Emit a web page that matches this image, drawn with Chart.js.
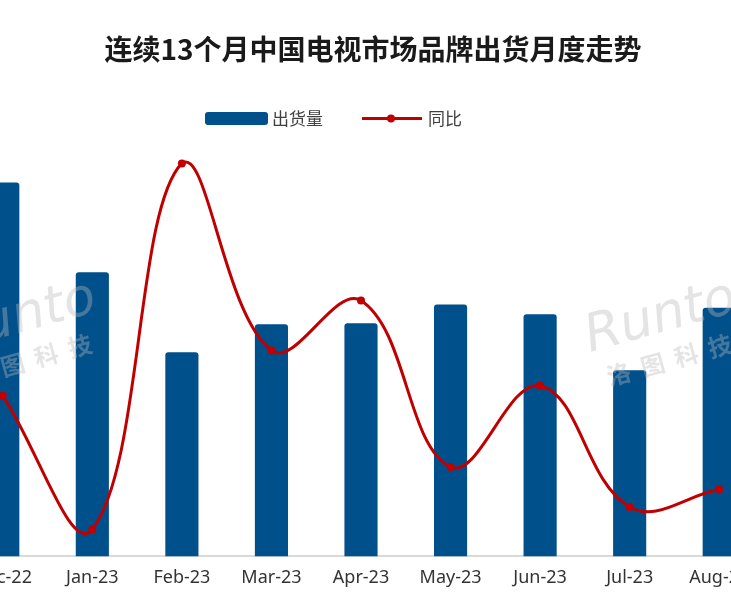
<!DOCTYPE html>
<html>
<head>
<meta charset="utf-8">
<script src="https://cdn.jsdelivr.net/npm/chart.js@4.4.0/dist/chart.umd.min.js"></script>
<title>连续13个月中国电视市场品牌出货月度走势</title>
<style>
  html, body { margin: 0; padding: 0; background: #fff; overflow: hidden; }
  #wrap { position: absolute; left: -46px; top: 0; width: 836px; height: 597px; }
</style>
</head>
<body>
<div id="wrap"><canvas id="myChart"></canvas></div>
<script>
// data (shipments in 万台, YoY in %)
var months = ['Dec-22', 'Jan-23', 'Feb-23', 'Mar-23', 'Apr-23', 'May-23', 'Jun-23', 'Jul-23', 'Aug-23'];
var shipments = [454, 345, 248, 282, 283, 306, 294, 226, 302];
var yoy = [-2.7, -25.4, 36.8, 5.0, 13.5, -14.8, -1.0, -21.6, -18.6];

var barColor = '#00508C';
var lineColor = '#C00000';

// legend drawn by hand so it sits where the original one does
var legendPlugin = {
  id: 'handLegend',
  afterDraw: function(chart) {
    var ctx = chart.ctx;
    ctx.save();
    // bar swatch
    ctx.fillStyle = barColor;
    ctx.beginPath();
    ctx.roundRect(251, 112, 63, 13, 3);
    ctx.fill();
    // line swatch
    ctx.strokeStyle = lineColor;
    ctx.lineWidth = 3;
    ctx.beginPath();
    ctx.moveTo(408, 118.5);
    ctx.lineTo(468, 118.5);
    ctx.stroke();
    ctx.fillStyle = lineColor;
    ctx.beginPath();
    ctx.arc(437, 118.5, 4, 0, Math.PI * 2);
    ctx.fill();
    ctx.fillStyle = '#404040';
    ctx.font = '17px "Noto Sans CJK SC"';
    ctx.textBaseline = 'middle';
    ctx.fillText(chart.data.datasets[0].label, 318, 119);
    ctx.fillText(chart.data.datasets[1].label, 474, 119);
    ctx.restore();
  }
};

// faint "Runto" watermark
var watermarkPlugin = {
  id: 'watermark',
  afterDatasetsDraw: function(chart) {
    var ctx = chart.ctx;
    [[-4, 352], [636, 352]].forEach(function(p) {
      ctx.save();
      ctx.translate(p[0], p[1]);
      ctx.rotate(-0.27);
      ctx.fillStyle = 'rgba(185,185,185,0.38)';
      ctx.font = 'italic 52px "DejaVu Sans"';
      ctx.fillText('Runto', 0, 0);
      ctx.font = 'bold 24px "Noto Sans CJK SC"';
      ctx.fillText('洛  图  科  技', 10, 38);
      ctx.restore();
    });
  }
};

var ctx = document.getElementById('myChart').getContext('2d');
var myChart = new Chart(ctx, {
  data: {
    labels: months,
    datasets: [
      { type: 'bar',
        label: '出货量',
        data: shipments,
        yAxisID: 'y',
        backgroundColor: barColor,
        borderRadius: { topLeft: 3, topRight: 3 },
        borderSkipped: 'bottom',
        barPercentage: 0.37,
        categoryPercentage: 1,
        order: 2 },
      { type: 'line',
        label: '同比',
        data: yoy,
        yAxisID: 'y1',
        borderColor: lineColor,
        backgroundColor: lineColor,
        borderWidth: 3,
        pointRadius: 4,
        pointBackgroundColor: lineColor,
        pointBorderWidth: 0,
        tension: 0.4,
        clip: false,
        order: 1 }
    ]
  },
  options: {
    responsive: true,
    maintainAspectRatio: false,
    animation: false,
    layout: { padding: { left: 0, right: 26, top: 0, bottom: -3 } },
    scales: {
      x: {
        grid: { display: false, drawTicks: false },
        border: { display: true, color: '#d9d9d9', width: 2 },
        ticks: { color: '#333', padding: 11, maxRotation: 0, font: { size: 18, family: '"Noto Sans"' } }
      },
      y: { display: false, min: 0, max: 500 },
      y1: { display: false, min: -30, max: 40 }
    },
    plugins: {
      legend: { display: false },
      tooltip: { enabled: false },
      title: {
        display: true,
        // leading ideographic space nudges the centred title right, as in the original
        text: '\u3000连续13个月中国电视市场品牌出货月度走势',
        color: '#1a1a1a',
        font: { size: 28, weight: 'bold', family: '"Noto Sans CJK SC"' },
        padding: { top: 33, bottom: 78 }
      }
    }
  },
  plugins: [legendPlugin, watermarkPlugin]
});
</script>
</body>
</html>
